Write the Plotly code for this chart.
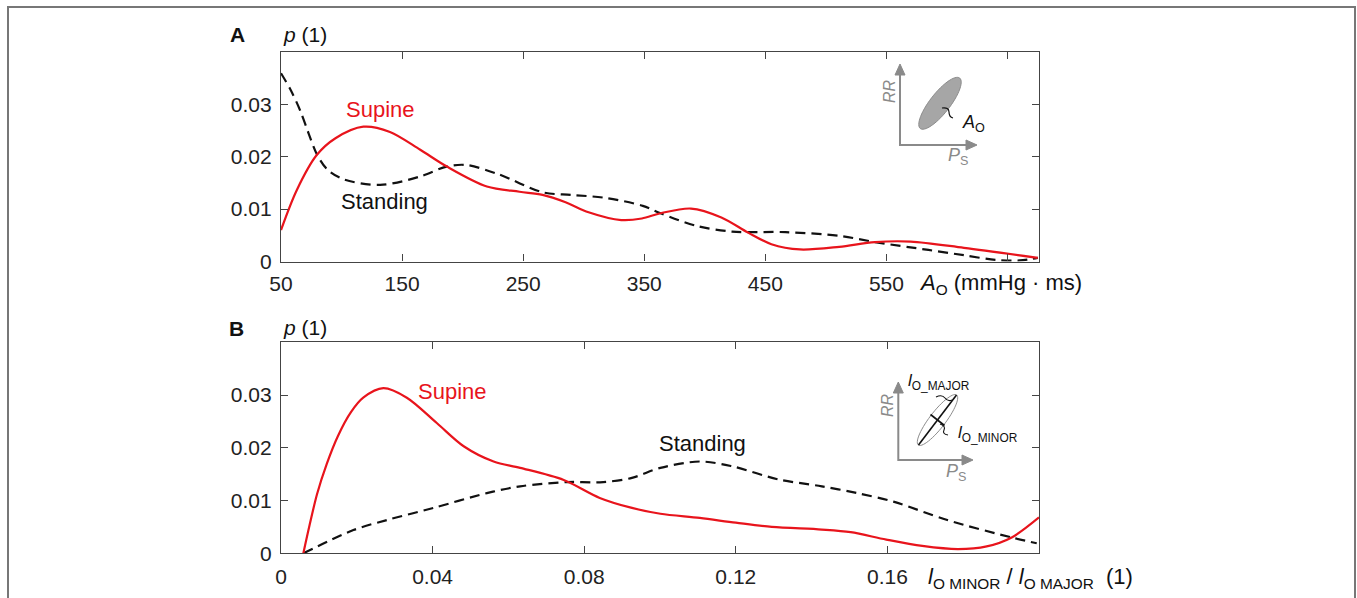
import numpy as np
import plotly.graph_objects as go

W, H = 1357, 598

# ---------------- data ----------------
# Panel A : A_O (mmHg·ms)
a_sup_x = [50, 63, 79.5, 95, 118, 140, 165, 187, 220, 247, 266, 285, 304, 331, 348,
           363.5, 388.6, 413.7, 435.8, 455, 478.6, 511, 540.5, 570, 614, 675]
a_sup_y = [0.0060, 0.0136, 0.0203, 0.0235, 0.0257, 0.0247, 0.0213, 0.0181, 0.0143,
           0.0133, 0.0127, 0.0113, 0.0094, 0.0079, 0.0082, 0.0092, 0.0101, 0.0084,
           0.0055, 0.0033, 0.0023, 0.0028, 0.0037, 0.0038, 0.0026, 0.0007]
a_sta_x = [50, 58, 66, 73, 79.5, 88, 101.5, 131.8, 164.8, 186.8, 203, 230, 266, 290, 319,
           348.8, 363.5, 393, 422.5, 466.7, 511, 540.5, 584.7, 614, 640, 660, 675]
a_sta_y = [0.0359, 0.0327, 0.0287, 0.0243, 0.0205, 0.0176, 0.0157, 0.0146, 0.0162,
           0.0181, 0.0184, 0.0166, 0.0132, 0.0127, 0.0121, 0.0106, 0.0092, 0.0068,
           0.0057, 0.0056, 0.0049, 0.0037, 0.0022, 0.0012, 0.0003, 0.0002, 0.0007]

# Panel B : l_O_MINOR / l_O_MAJOR
b_sup_x = [0.0059, 0.0075, 0.0095, 0.0121, 0.015, 0.0185, 0.0217, 0.027, 0.0332,
           0.0411, 0.0482, 0.0561, 0.0631, 0.0746, 0.0841, 0.0926, 0.1001, 0.1105,
           0.12, 0.1295, 0.1427, 0.1503, 0.1597, 0.1692, 0.1786, 0.1862, 0.1928, 0.2]
b_sup_y = [0.0, 0.0052, 0.0112, 0.0170, 0.0222, 0.0268, 0.0295, 0.0313, 0.0295,
           0.0247, 0.0203, 0.0174, 0.0162, 0.0139, 0.0105, 0.0086, 0.0075, 0.0067,
           0.0058, 0.0050, 0.0045, 0.0040, 0.0026, 0.0014, 0.0008, 0.0013, 0.0030, 0.0068]
b_sta_x = [0.0059, 0.0191, 0.0279, 0.0402, 0.0543, 0.0631, 0.0756, 0.085, 0.0926,
           0.1001, 0.1105, 0.119, 0.1313, 0.1427, 0.1521, 0.1616, 0.1758, 0.1928, 0.1994]
b_sta_y = [0.0, 0.0044, 0.0063, 0.0086, 0.0114, 0.0127, 0.0135, 0.0135, 0.0143,
           0.0162, 0.0174, 0.0165, 0.0140, 0.0127, 0.0114, 0.0098, 0.0063, 0.0030, 0.0019]

a_xticks = [50, 150, 250, 350, 450, 550, 650]
a_xticktext = ["50", "150", "250", "350", "450", "550", ""]
b_xticks = [0, 0.04, 0.08, 0.12, 0.16]
b_xticktext = ["0", "0.04", "0.08", "0.12", "0.16"]
yticks = [0, 0.01, 0.02, 0.03]
yticktext = ["0", "0.01", "0.02", "0.03"]

RED = "#e8141c"
FONT = "Liberation Sans, Arial, sans-serif"
FS = 21


def X(px):
    return px / W


def Y(py):
    return 1 - py / H


fig = go.Figure()
line_red = dict(color=RED, width=2.2, shape="spline", smoothing=0.9)
line_blk = dict(color="#111", width=2.2, dash="10px,6px", shape="spline", smoothing=0.9)
fig.add_trace(go.Scatter(x=a_sta_x, y=a_sta_y, mode="lines", line=line_blk, xaxis="x", yaxis="y"))
fig.add_trace(go.Scatter(x=a_sup_x, y=a_sup_y, mode="lines", line=line_red, xaxis="x", yaxis="y"))
fig.add_trace(go.Scatter(x=b_sta_x, y=b_sta_y, mode="lines", line=line_blk, xaxis="x2", yaxis="y2"))
fig.add_trace(go.Scatter(x=b_sup_x, y=b_sup_y, mode="lines", line=line_red, xaxis="x2", yaxis="y2"))

axis_common = dict(showline=True, linecolor="#444", linewidth=1.3, mirror="ticks",
                   ticks="inside", ticklen=7, tickwidth=1.2, tickcolor="#444",
                   showgrid=False, zeroline=False, automargin=False,
                   tickfont=dict(family=FONT, size=FS, color="#222"))

xdom = [X(281), X(1039)]
fig.update_layout(
    width=W, height=H, margin=dict(l=0, r=0, t=0, b=0),
    paper_bgcolor="white", plot_bgcolor="white", showlegend=False,
    template="none",
    xaxis=dict(domain=xdom, range=[50, 676], tickvals=a_xticks, ticktext=a_xticktext,
               anchor="y", ticklabelstandoff=3, **axis_common),
    yaxis=dict(domain=[Y(261.5), Y(51.7)], range=[0, 0.04], tickvals=yticks,
               ticktext=yticktext, anchor="x", ticklabelstandoff=4, **axis_common),
    xaxis2=dict(domain=xdom, range=[0, 0.2], tickvals=b_xticks, ticktext=b_xticktext,
                anchor="y2", ticklabelstandoff=4, **axis_common),
    yaxis2=dict(domain=[Y(553.3), Y(342.3)], range=[0, 0.04], tickvals=yticks,
                ticktext=yticktext, anchor="x2", ticklabelstandoff=4, **axis_common),
)

ann = []


def txt(x, y, text, size=FS, color="#111", xanchor="center", xref="paper", yref="paper", angle=0):
    ann.append(dict(x=x, y=y, xref=xref, yref=yref, text=text, showarrow=False,
                    xanchor=xanchor, yanchor="middle", textangle=angle,
                    font=dict(family=FONT, size=size, color=color)))


# panel letters and y titles
txt(X(237), Y(35), "<b>A</b>")
txt(X(281), Y(35), "<i>p</i> (1)", xanchor="left")
txt(X(236), Y(328), "<b>B</b>")
txt(X(281), Y(327), "<i>p</i> (1)", xanchor="left")

# x titles
txt(X(917), Y(284), "<i>A</i><sub>O</sub> (mmHg · ms)", size=22, xanchor="left")
txt(X(926), Y(578), "<i>l</i><sub>O MINOR</sub> / <i>l</i><sub>O MAJOR</sub>&nbsp; (1)", size=22, xanchor="left")

# series labels
txt(X(380), Y(109), "Supine", size=22, color=RED)
txt(X(384), Y(201), "Standing", size=22)
txt(X(452), Y(391), "Supine", size=22, color=RED)
txt(X(702), Y(444), "Standing", size=22)

GRAY = "#8a8a8a"
shapes = []

# outer frame
shapes.append(dict(type="path", xref="paper", yref="paper",
                   path=f"M {X(8)} {Y(640)} L {X(8)} {Y(7)} L {X(1355)} {Y(7)} L {X(1355)} {Y(640)}",
                   line=dict(color="#777", width=2)))


def p2s(pts):
    return " ".join(("M" if i == 0 else "L") + f" {X(a)} {Y(b)}" for i, (a, b) in enumerate(pts))


def inset_axes(cx, cy, top, right):
    shapes.append(dict(type="path", xref="paper", yref="paper",
                       path=p2s([(cx, top + 8), (cx, cy), (right - 8, cy)]),
                       line=dict(color=GRAY, width=2)))
    shapes.append(dict(type="path", xref="paper", yref="paper",
                       path=p2s([(cx, top), (cx - 5, top + 11), (cx + 5, top + 11)]) + " Z",
                       fillcolor=GRAY, line=dict(color=GRAY, width=1)))
    shapes.append(dict(type="path", xref="paper", yref="paper",
                       path=p2s([(right, cy), (right - 11, cy - 5), (right - 11, cy + 5)]) + " Z",
                       fillcolor=GRAY, line=dict(color=GRAY, width=1)))


def ellipse(cx, cy, a, b, ang_deg, n=60):
    t = np.linspace(0, 2 * np.pi, n)
    th = np.deg2rad(ang_deg)
    ux, uy = np.cos(th), -np.sin(th)
    vx, vy = np.sin(th), np.cos(th)
    xs = cx + a * np.cos(t) * ux + b * np.sin(t) * vx
    ys = cy + a * np.cos(t) * uy + b * np.sin(t) * vy
    return p2s(list(zip(xs, ys))) + " Z"


# Inset A
inset_axes(900, 145, 64, 977)
shapes.append(dict(type="path", xref="paper", yref="paper", path=ellipse(940, 103.3, 32, 10, 52),
                   fillcolor="#a6a6a6", line=dict(color="#8c8c8c", width=1)))
shapes.append(dict(type="path", xref="paper", yref="paper",
                   path=f"M {X(942)} {Y(108)} Q {X(949)} {Y(107)} {X(949)} {Y(112)} T {X(953)} {Y(118)}",
                   line=dict(color="#111", width=1.2)))
txt(X(960), Y(124), "<i>A</i><sub>O</sub>", size=18, xanchor="left")
txt(X(889), Y(91), "<i>RR</i>", size=16, color=GRAY, angle=-90)
txt(X(946), Y(156), "<i>P</i><sub>S</sub>", size=18, color=GRAY, xanchor="left")

# Inset B
inset_axes(898.3, 460, 382, 973)
shapes.append(dict(type="path", xref="paper", yref="paper", path=ellipse(937.5, 420, 31.5, 8, 52.5),
                   fillcolor="rgba(0,0,0,0)", line=dict(color="#8c8c8c", width=1)))
shapes.append(dict(type="path", xref="paper", yref="paper",
                   path=p2s([(918.5, 445), (956.5, 395)]), line=dict(color="#111", width=1.6)))
shapes.append(dict(type="path", xref="paper", yref="paper",
                   path=p2s([(930.5, 414.5), (944.5, 425.5)]), line=dict(color="#111", width=1.6)))
shapes.append(dict(type="path", xref="paper", yref="paper",
                   path=f"M {X(936)} {Y(397)} Q {X(942)} {Y(394)} {X(945)} {Y(398)} T {X(952)} {Y(400)}",
                   line=dict(color="#111", width=1.1)))
shapes.append(dict(type="path", xref="paper", yref="paper",
                   path=f"M {X(940)} {Y(424)} Q {X(946)} {Y(426)} {X(944)} {Y(430)} T {X(948)} {Y(435)}",
                   line=dict(color="#111", width=1.1)))
txt(X(906), Y(382), "<i>l</i><sub>O_MAJOR</sub>", size=17, xanchor="left")
txt(X(956), Y(434), "<i>l</i><sub>O_MINOR</sub>", size=17, xanchor="left")
txt(X(887), Y(405), "<i>RR</i>", size=16, color=GRAY, angle=-90)
txt(X(944), Y(472), "<i>P</i><sub>S</sub>", size=18, color=GRAY, xanchor="left")

fig.update_layout(annotations=ann, shapes=shapes)
fig.write_html("out.html")
